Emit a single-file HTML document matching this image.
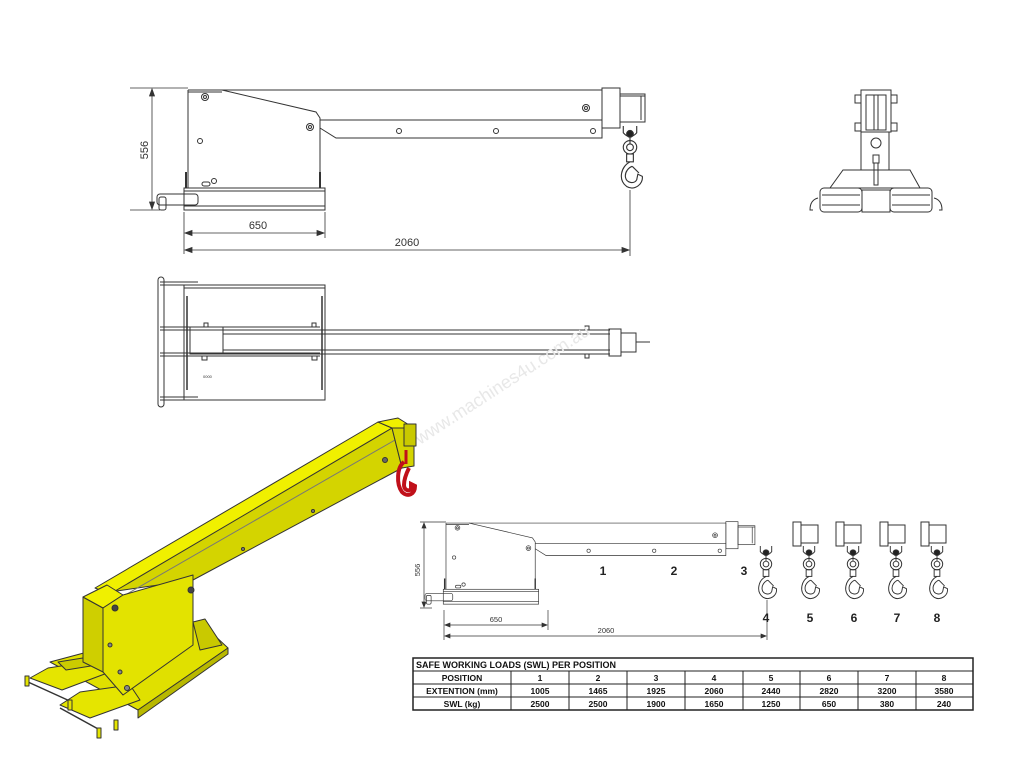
<!DOCTYPE html>
<html><head><meta charset="utf-8"><style>
html,body{margin:0;padding:0;background:#fff}
svg{display:block}
text{font-family:"Liberation Sans",sans-serif}
</style></head><body>
<svg width="1024" height="768" viewBox="0 0 1024 768" xmlns="http://www.w3.org/2000/svg">
<defs>
<g id="hook" fill="none" stroke="#333" stroke-width="1">
  <path d="M-6,0 L-6,6 Q0,13 6,6 L6,0"/>
  <circle cx="0" cy="7" r="3" fill="#222"/>
  <line x1="0" y1="10" x2="0" y2="16"/>
  <circle cx="0" cy="19" r="6"/>
  <circle cx="0" cy="19" r="3"/>
  <rect x="-3" y="25" width="6" height="7"/>
  <path d="M0,32 C-8,36 -11,48 -3,54 C4,58 12,52 11,45 L7,43 L6,48 C4,52 -3,51 -4,46 C-5,41 -1,37 2,36"/>
  <path d="M2,36 L8,42"/>
</g>
<g id="side" fill="none" stroke="#333" stroke-width="1">
  <path d="M188,90 L222,90 L316,112 L320,118 L320,188 M188,90 L188,188"/>
  <path d="M222,90 L602,90 M320,120 L602,120 M320,128 L336,138 L602,138 L602,90"/>
  <line x1="188" y1="92" x2="222" y2="92"/>
  <circle cx="205" cy="97" r="3.5"/><circle cx="205" cy="97" r="1.5"/>
  <circle cx="310" cy="127" r="3.5"/><circle cx="310" cy="127" r="1.5"/>
  <circle cx="586" cy="108" r="3.5"/><circle cx="586" cy="108" r="1.5"/>
  <circle cx="200" cy="141" r="2.5"/>
  <circle cx="399" cy="131" r="2.5"/><circle cx="496" cy="131" r="2.5"/><circle cx="593" cy="131" r="2.5"/>
  <circle cx="214" cy="181" r="2.5"/>
  <rect x="202" y="182" width="8" height="4" rx="2"/>
  <line x1="186" y1="172" x2="186" y2="188" stroke-width="2"/>
  <line x1="320" y1="172" x2="320" y2="188" stroke-width="2"/>
  <rect x="602" y="88" width="18" height="40"/>
  <rect x="620" y="94" width="25" height="28"/>
  <line x1="641" y1="96" x2="641" y2="120"/>
  <line x1="620" y1="96" x2="645" y2="96"/>
  <rect x="184" y="188" width="141" height="22"/>
  <line x1="184" y1="191" x2="325" y2="191"/>
  <line x1="184" y1="206" x2="325" y2="206"/>
  <rect x="157" y="194" width="41" height="11" rx="3"/>
  <rect x="159" y="197" width="7" height="13" rx="2"/>
</g>
</defs>

<use href="#side"/>
<use href="#hook" transform="translate(630,126) scale(1.12)"/>
<g stroke="#333" stroke-width="0.8" fill="#333">
  <line x1="130" y1="88" x2="188" y2="88" fill="none"/>
  <line x1="130" y1="210" x2="160" y2="210" fill="none"/>
  <line x1="152" y1="90" x2="152" y2="208"/>
  <path d="M152,89 l-2.5,7 h5z M152,209 l-2.5,-7 h5z"/>
  <line x1="184" y1="212" x2="184" y2="254"/>
  <line x1="325" y1="212" x2="325" y2="238"/>
  <line x1="630" y1="190" x2="630" y2="256"/>
  <line x1="185" y1="233" x2="324" y2="233"/>
  <path d="M185,233 l7,-2.5 v5z M324,233 l-7,-2.5 v5z"/>
  <line x1="185" y1="250" x2="629" y2="250"/>
  <path d="M185,250 l7,-2.5 v5z M629,250 l-7,-2.5 v5z"/>
</g>
<text x="148" y="150" font-size="11" fill="#333" text-anchor="middle" transform="rotate(-90 148 150)">556</text>
<text x="258" y="229" font-size="11" fill="#333" text-anchor="middle">650</text>
<text x="407" y="246" font-size="11" fill="#333" text-anchor="middle">2060</text>

<!-- Front view -->
<g fill="none" stroke="#333" stroke-width="1">
  <rect x="861" y="90" width="30" height="42"/>
  <rect x="866" y="95" width="20" height="35"/>
  <line x1="874" y1="95" x2="874" y2="130"/><line x1="878" y1="95" x2="878" y2="130"/>
  <rect x="855" y="95" width="6" height="8"/><rect x="891" y="95" width="6" height="8"/>
  <rect x="855" y="123" width="6" height="8"/><rect x="891" y="123" width="6" height="8"/>
  <rect x="861" y="132" width="28" height="38"/>
  <circle cx="876" cy="143" r="5"/>
  <rect x="873" y="155" width="6" height="8"/>
  <path d="M874,163 L874,185 L878,185 L878,163"/>
  <path d="M843,170 L910,170 L920,188 L830,188 Z"/>
  <rect x="820" y="188" width="42" height="24" rx="4"/>
  <rect x="890" y="188" width="42" height="24" rx="4"/>
  <line x1="822" y1="195" x2="860" y2="195"/><line x1="822" y1="205" x2="860" y2="205"/>
  <line x1="892" y1="195" x2="930" y2="195"/><line x1="892" y1="205" x2="930" y2="205"/>
  <rect x="862" y="190" width="28" height="22"/>
  <path d="M818,198 Q810,200 810,210 L813,210"/>
  <path d="M934,198 Q942,200 942,210 L939,210"/>
</g>

<!-- Plan view -->
<g fill="none" stroke="#333" stroke-width="1">
  <rect x="158" y="277" width="6" height="130" rx="3"/>
  <line x1="160" y1="282" x2="198" y2="282"/><line x1="160" y1="285" x2="198" y2="285"/>
  <line x1="160" y1="327" x2="320" y2="327"/><line x1="160" y1="330" x2="320" y2="330"/>
  <line x1="160" y1="353" x2="320" y2="353"/><line x1="160" y1="356" x2="320" y2="356"/>
  <line x1="160" y1="397" x2="198" y2="397"/><line x1="160" y1="400" x2="198" y2="400"/>
  <rect x="184" y="285" width="141" height="115"/>
  <line x1="184" y1="288" x2="325" y2="288"/>
  <line x1="187" y1="296" x2="187" y2="390" stroke-width="1.5"/>
  <line x1="322" y1="296" x2="322" y2="390" stroke-width="1.5"/>
  <rect x="190" y="327" width="33" height="27"/>
  <line x1="223" y1="330" x2="610" y2="330"/>
  <line x1="223" y1="334" x2="610" y2="334"/>
  <line x1="223" y1="350" x2="610" y2="350"/>
  <line x1="223" y1="354" x2="610" y2="354"/>
  <rect x="609" y="329" width="12" height="27"/>
  <rect x="621" y="333" width="15" height="19"/>
  <line x1="636" y1="342" x2="650" y2="342"/>
  <rect x="204" y="323" width="4" height="4"/><rect x="312" y="323" width="4" height="4"/>
  <rect x="202" y="356" width="5" height="4"/><rect x="312" y="356" width="5" height="4"/>
  <rect x="585" y="326" width="4" height="4"/><rect x="585" y="354" width="4" height="4"/>
</g>
<text x="203" y="378" font-size="4" fill="#333">0000</text>
<text x="420" y="445" font-size="18" fill="#e8e8e8" transform="rotate(-33 420 445)">www.machines4u.com.au</text>

<!-- Yellow 3D crane -->
<g stroke="#333" stroke-width="1" stroke-linejoin="round">
  <!-- base plate -->
  <polygon points="50,662 200,622 228,648 138,710" fill="#e0e000"/>
  <polygon points="138,710 228,648 228,654 138,718" fill="#b8b800"/>
  <polygon points="193,622 205,619 222,645 200,650" fill="#c9c900"/>
  <!-- forks -->
  <polygon points="30,678 48,668 100,660 110,672 62,690" fill="#e5e500"/>
  <polygon points="60,705 80,692 130,685 140,700 90,718" fill="#e5e500"/>
  <polygon points="58,662 120,652 128,660 66,670" fill="#cccc00"/>
  <line x1="28" y1="682" x2="72" y2="702" fill="none" stroke-width="1.5"/>
  <line x1="60" y1="708" x2="100" y2="730" fill="none" stroke-width="1.5"/>
  <rect x="25" y="676" width="4" height="10" fill="#e5e500"/>
  <rect x="68" y="700" width="4" height="10" fill="#e5e500"/>
  <rect x="97" y="728" width="4" height="10" fill="#e5e500"/>
  <rect x="114" y="720" width="4" height="10" fill="#e5e500"/>
  <!-- boom side -->
  <polygon points="110,592 392,428 402,468 193,580" fill="#d4d400"/>
  <!-- boom top -->
  <polygon points="95,588 378,422 392,428 110,594" fill="#f0f000"/>
  <line x1="120" y1="598" x2="395" y2="440" stroke="#777" fill="none"/>
  <!-- head -->
  <polygon points="378,422 398,418 414,428 392,428" fill="#f0f000"/>
  <polygon points="392,428 414,428 414,466 402,468" fill="#d4d400"/>
  <rect x="404" y="424" width="12" height="22" fill="#c9c900"/>
  <!-- pillar -->
  <polygon points="83,597 103,608 103,672 83,662" fill="#cfcf00"/>
  <polygon points="83,597 107,585 123,595 103,608" fill="#f0f000"/>
  <polygon points="103,608 123,595 193,575 193,645 123,695 103,672" fill="#e3e300"/>
  <circle cx="115" cy="608" r="3" fill="#444"/>
  <circle cx="191" cy="590" r="3" fill="#444"/>
  <circle cx="110" cy="645" r="2" fill="#888"/>
  <circle cx="120" cy="672" r="2" fill="#888"/>
  <circle cx="127" cy="688" r="2.5" fill="#888"/>
  <circle cx="385" cy="460" r="2.5" fill="#666"/>
  <circle cx="313" cy="511" r="1.5" fill="#888"/>
  <circle cx="243" cy="549" r="1.5" fill="#888"/>
</g>
<path d="M404,462 C397,467 396,484 402,492 C408,498 415,494 415,486 L411,484 L411,489 C409,492 404,490 404,485 C404,478 407,472 409,468" fill="none" stroke="#c0101a" stroke-width="4"/>
<line x1="406" y1="450" x2="406" y2="464" stroke="#c0101a" stroke-width="3"/>

<!-- Small side view -->
<use href="#side" transform="translate(318.9,462.2) scale(0.676)"/>
<g stroke="#333" stroke-width="0.7" fill="#333">
  <line x1="420" y1="522" x2="446" y2="522"/>
  <line x1="420" y1="608" x2="432" y2="608"/>
  <line x1="424" y1="524" x2="424" y2="606"/>
  <path d="M424,523 l-2,5 h4z M424,607 l-2,-5 h4z"/>
  <line x1="444" y1="610" x2="444" y2="640"/>
  <line x1="548" y1="610" x2="548" y2="630"/>
  <line x1="767" y1="600" x2="767" y2="640"/>
  <line x1="445" y1="625" x2="547" y2="625"/>
  <path d="M445,625 l5,-2 v4z M547,625 l-5,-2 v4z"/>
  <line x1="445" y1="636" x2="766" y2="636"/>
  <path d="M445,636 l5,-2 v4z M766,636 l-5,-2 v4z"/>
</g>
<use href="#hook" transform="translate(766,546) scale(0.95)"/>
<g fill="none" stroke="#333" stroke-width="1">
  <rect x="793" y="522" width="8" height="24"/><rect x="801" y="525" width="17" height="18"/>
  <rect x="836" y="522" width="8" height="24"/><rect x="844" y="525" width="17" height="18"/>
  <rect x="880" y="522" width="8" height="24"/><rect x="888" y="525" width="17" height="18"/>
  <rect x="921" y="522" width="8" height="24"/><rect x="929" y="525" width="17" height="18"/>
</g>
<use href="#hook" transform="translate(809,546) scale(0.95)"/>
<use href="#hook" transform="translate(853,546) scale(0.95)"/>
<use href="#hook" transform="translate(896,546) scale(0.95)"/>
<use href="#hook" transform="translate(937,546) scale(0.95)"/>
<g font-size="12" font-weight="bold" fill="#222" text-anchor="middle">
<text x="603" y="575">1</text><text x="674" y="575">2</text><text x="744" y="575">3</text>
<text x="766" y="622">4</text><text x="810" y="622">5</text><text x="854" y="622">6</text>
<text x="897" y="622">7</text><text x="937" y="622">8</text>
</g>
<g font-size="7.5" fill="#333">
<text x="420" y="570" transform="rotate(-90 420 570)" text-anchor="middle">556</text>
<text x="496" y="622" text-anchor="middle">650</text>
<text x="606" y="633" text-anchor="middle">2060</text>
</g>

<!-- Table -->
<g stroke="#222" fill="none">
  <rect x="413" y="658" width="560" height="52" stroke-width="1.5"/>
  <line x1="413" y1="671" x2="973" y2="671"/>
  <line x1="413" y1="684" x2="973" y2="684"/>
  <line x1="413" y1="697" x2="973" y2="697"/>
  <line x1="511" y1="671" x2="511" y2="710"/>
  <line x1="569" y1="671" x2="569" y2="710"/>
  <line x1="627" y1="671" x2="627" y2="710"/>
  <line x1="685" y1="671" x2="685" y2="710"/>
  <line x1="743" y1="671" x2="743" y2="710"/>
  <line x1="800" y1="671" x2="800" y2="710"/>
  <line x1="858" y1="671" x2="858" y2="710"/>
  <line x1="916" y1="671" x2="916" y2="710"/>
</g>
<g font-size="9" font-weight="bold" fill="#111">
<text x="416" y="668">SAFE WORKING LOADS (SWL) PER POSITION</text>
</g>
<g font-size="8.5" font-weight="bold" fill="#111" text-anchor="middle">
<text x="462" y="681">POSITION</text>
<text x="540" y="681">1</text><text x="598" y="681">2</text><text x="656" y="681">3</text><text x="714" y="681">4</text><text x="771" y="681">5</text><text x="829" y="681">6</text><text x="887" y="681">7</text><text x="944" y="681">8</text>
<text x="462" y="694">EXTENTION (mm)</text>
<text x="540" y="694">1005</text><text x="598" y="694">1465</text><text x="656" y="694">1925</text><text x="714" y="694">2060</text><text x="771" y="694">2440</text><text x="829" y="694">2820</text><text x="887" y="694">3200</text><text x="944" y="694">3580</text>
<text x="462" y="707">SWL (kg)</text>
<text x="540" y="707">2500</text><text x="598" y="707">2500</text><text x="656" y="707">1900</text><text x="714" y="707">1650</text><text x="771" y="707">1250</text><text x="829" y="707">650</text><text x="887" y="707">380</text><text x="944" y="707">240</text>
</g>
</svg>
</body></html>
